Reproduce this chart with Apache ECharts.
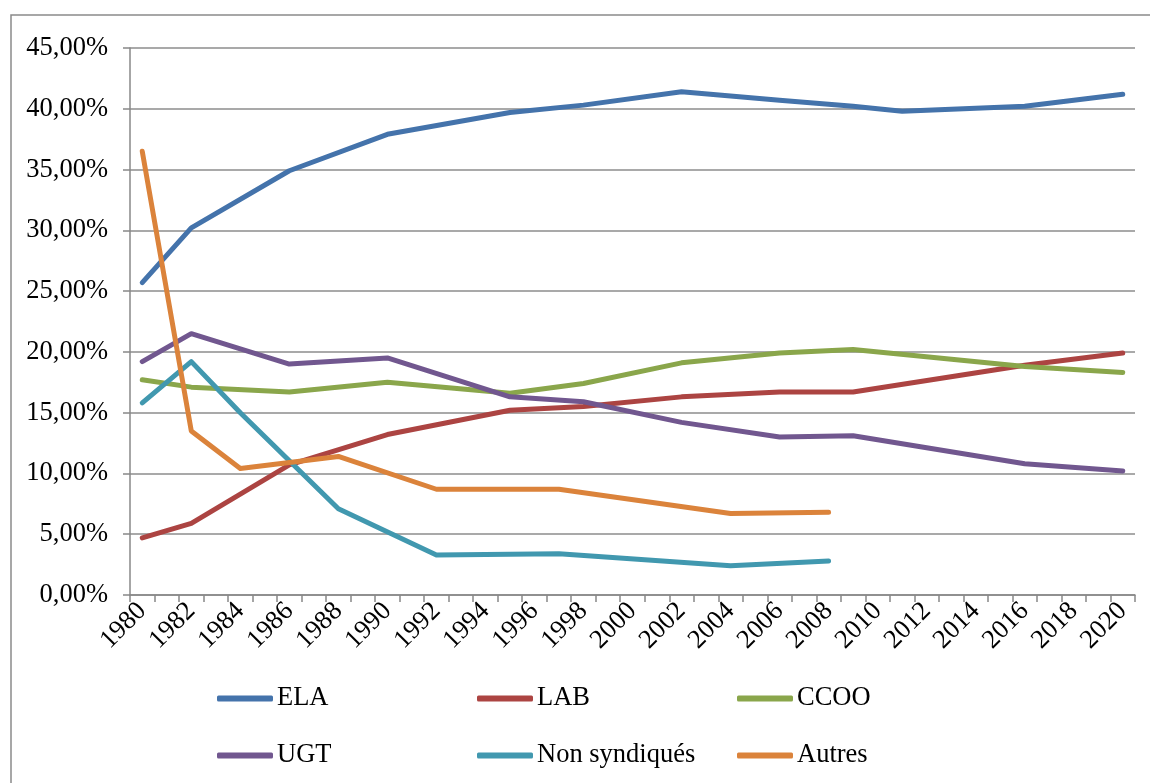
<!DOCTYPE html>
<html>
<head>
<meta charset="utf-8">
<script src="https://cdn.jsdelivr.net/npm/echarts@6/dist/echarts.min.js"></script>
<style>
html,body{margin:0;padding:0;background:#fff;}
#chart{width:1150px;height:783px;}
</style>
</head>
<body>
<div id="chart"></div>
<script>
// Categories (years) and tick labels
const years = [];
for (let y = 1980; y <= 2020; y++) years.push(String(y));

// Series values (percent), with the years they belong to
const elaYears = [1980, 1982, 1986, 1990, 1995, 1998, 2002, 2006, 2009, 2011, 2016, 2020];
const elaValues = [25.7, 30.2, 34.9, 37.9, 39.7, 40.3, 41.4, 40.7, 40.2, 39.8, 40.2, 41.2];

const labYears = [1980, 1982, 1986, 1990, 1995, 1998, 2002, 2006, 2009, 2016, 2020];
const labValues = [4.7, 5.9, 10.7, 13.2, 15.2, 15.5, 16.3, 16.7, 16.7, 18.9, 19.9];

const ccooYears = [1980, 1982, 1986, 1990, 1995, 1998, 2002, 2006, 2009, 2016, 2020];
const ccooValues = [17.7, 17.1, 16.7, 17.5, 16.6, 17.4, 19.1, 19.9, 20.2, 18.8, 18.3];

const ugtYears = [1980, 1982, 1986, 1990, 1995, 1998, 2002, 2006, 2009, 2016, 2020];
const ugtValues = [19.2, 21.5, 19.0, 19.5, 16.3, 15.9, 14.2, 13.0, 13.1, 10.8, 10.2];

const nonSyndYears = [1980, 1982, 1984, 1988, 1992, 1997, 2004, 2008];
const nonSyndValues = [15.8, 19.2, 15.0, 7.1, 3.3, 3.4, 2.4, 2.8];

const autresYears = [1980, 1982, 1984, 1988, 1992, 1997, 2004, 2008];
const autresValues = [36.5, 13.5, 10.4, 11.4, 8.7, 8.7, 6.7, 6.8];

const seriesNames = ['ELA', 'LAB', 'CCOO', 'UGT', 'Non syndiqués', 'Autres'];
const seriesColors = ['#4473AB', '#AC4442', '#8AA64B', '#71578F', '#4198AF', '#DB833B'];
const seriesYears = [elaYears, labYears, ccooYears, ugtYears, nonSyndYears, autresYears];
const seriesValues = [elaValues, labValues, ccooValues, ugtValues, nonSyndValues, autresValues];

const FONT = '"Liberation Serif", "Times New Roman", serif';
const FS = 26.5;

function pairs(ys, vs) {
  return ys.map((y, i) => [String(y), vs[i]]);
}

const series = seriesNames.map((name, i) => ({
  name: name,
  type: 'line',
  data: pairs(seriesYears[i], seriesValues[i]),
  symbol: 'none',
  showSymbol: false,
  lineStyle: { color: seriesColors[i], width: 5, cap: 'round', join: 'round' },
  itemStyle: { color: seriesColors[i] },
  emphasis: { disabled: true },
  animation: false
}));

const legendPos = [
  [217, 0], [477, 0], [737, 0],
  [217, 1], [477, 1], [737, 1]
];
const legends = seriesNames.map((name, i) => ({
  data: [name],
  left: legendPos[i][0],
  top: 685 + legendPos[i][1] * 57,
  orient: 'horizontal',
  icon: 'roundRect',
  itemWidth: 56,
  itemHeight: 6,
  itemGap: 0,
  padding: 0,
  selectedMode: false,
  textStyle: { fontFamily: FONT, fontSize: FS, color: '#000', padding: [0, 0, 0, -1] }
}));

const chart = echarts.init(document.getElementById('chart'), null, { renderer: 'canvas' });
chart.setOption({
  animation: false,
  backgroundColor: '#fff',
  graphic: [{
    type: 'rect',
    shape: { x: 11, y: 15, width: 1300, height: 1000 },
    style: { fill: 'none', stroke: '#8a8a8a', lineWidth: 1.5 },
    silent: true,
    z: -1
  }],
  grid: { left: 130, right: 15, top: 48, bottom: 188, containLabel: false },
  legend: legends,
  xAxis: {
    type: 'category',
    data: years,
    boundaryGap: true,
    axisLine: { show: true, lineStyle: { color: '#888', width: 1.5 } },
    axisTick: { show: true, interval: 0, length: 7, lineStyle: { color: '#888', width: 1.5 } },
    axisLabel: {
      interval: 1,
      rotate: 45,
      margin: 12,
      fontFamily: FONT,
      fontSize: FS,
      color: '#000'
    },
    splitLine: { show: false }
  },
  yAxis: {
    type: 'value',
    min: 0,
    max: 45,
    interval: 5,
    axisLine: { show: true, lineStyle: { color: '#888', width: 1.5 } },
    axisTick: { show: true, length: 7, lineStyle: { color: '#888', width: 1.5 } },
    axisLabel: {
      margin: 22,
      fontFamily: FONT,
      fontSize: FS,
      color: '#000',
      formatter: v => v.toFixed(2).replace('.', ',') + '%'
    },
    splitLine: { show: true, lineStyle: { color: '#8c8c8c', width: 1.5 } }
  },
  series: series
});
</script>
</body>
</html>
